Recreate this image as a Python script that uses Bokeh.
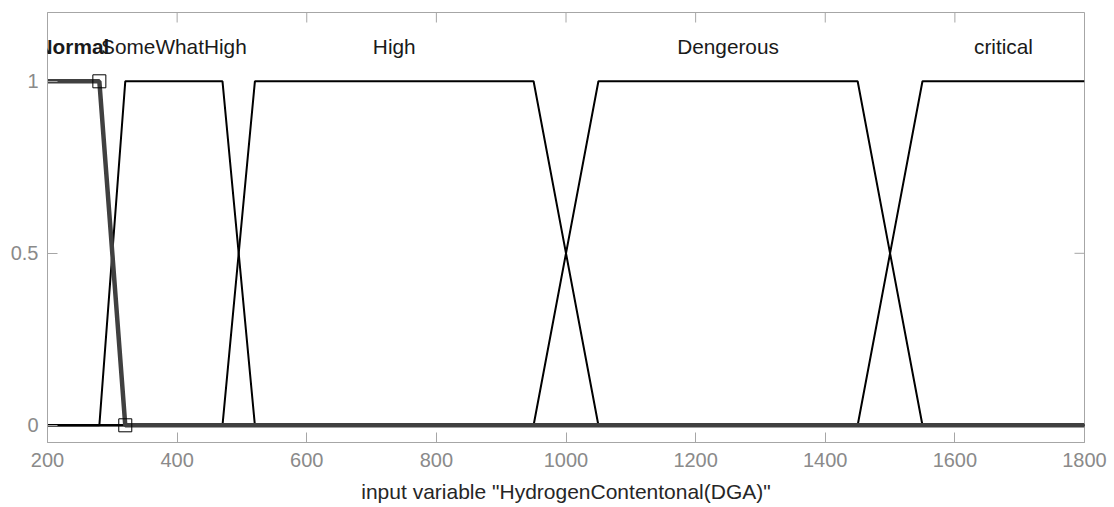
import math
from bokeh.plotting import figure
from bokeh.models import Range1d, FixedTicker, Label
from bokeh.embed import file_html
from bokeh.resources import INLINE

# ---- data ----
mf_names = ["Normal", "SomeWhatHigh", "High", "Dengerous", "critical"]
mf_a = [200, 280, 470, 950, 1450]
mf_b = [200, 320, 520, 1050, 1550]
mf_c = [280, 470, 950, 1450, 1800]
mf_d = [320, 520, 1050, 1550, 1800]
selected = 0
x_min, x_max = 200, 1800
y_min, y_max = -0.05, 1.2
x_ticks = [200, 400, 600, 800, 1000, 1200, 1400, 1600, 1800]
y_ticks = [0, 0.5, 1]
y_tick_labels = {0: "0", 0.5: "0.5", 1: "1"}
x_label = 'input variable "HydrogenContentonal(DGA)"'
label_y = 1.1

FONT = "Liberation Sans"
GREY = "#8a8a8a"
FRAME = "#a6a6a6"

# layout (pixels)
W, H = 1114, 507
B_LEFT, B_RIGHT, B_TOP, B_BOTTOM = 47, 30, 12, 65
FRAME_W = W - B_LEFT - B_RIGHT
FRAME_H = H - B_TOP - B_BOTTOM


def trapmf(x, a, b, c, d):
    left = 1.0 if x >= b else (0.0 if x <= a else (x - a) / (b - a))
    right = 1.0 if x <= c else (0.0 if x >= d else (d - x) / (d - c))
    return min(left, right)


p = figure(width=W, height=H, output_backend="svg", toolbar_location=None,
           x_range=Range1d(x_min, x_max), y_range=Range1d(y_min, y_max),
           min_border_left=B_LEFT, min_border_right=B_RIGHT, min_border_top=B_TOP,
           min_border_bottom=B_BOTTOM)
p.grid.visible = False
p.outline_line_color = FRAME
p.background_fill_color = "white"
p.border_fill_color = "white"

for ax in (p.xaxis[0], p.yaxis[0]):
    ax.major_tick_in = 10
    ax.major_tick_out = 0
    ax.minor_tick_line_color = None
    ax.axis_line_color = FRAME
    ax.major_tick_line_color = FRAME
    ax.major_label_text_color = GREY
    ax.major_label_text_font = FONT
    ax.major_label_text_font_size = "20px"

p.xaxis[0].ticker = FixedTicker(ticks=x_ticks)
p.xaxis[0].major_label_standoff = 10
p.xaxis[0].axis_label = x_label
p.xaxis[0].axis_label_text_font = FONT
p.xaxis[0].axis_label_text_font_size = "21px"
p.xaxis[0].axis_label_text_font_style = "normal"
p.xaxis[0].axis_label_text_color = "#262626"
p.xaxis[0].axis_label_standoff = 10

p.yaxis[0].ticker = FixedTicker(ticks=y_ticks)
p.yaxis[0].major_label_overrides = y_tick_labels
p.yaxis[0].major_label_standoff = 9

# mirrored inward ticks on top and right edges (half of each dash is clipped by the frame)
p.scatter(x_ticks, [y_max] * len(x_ticks), marker="dash", size=20, angle=math.pi / 2,
          line_color=FRAME, line_width=1)
p.scatter([x_max] * len(y_ticks), y_ticks, marker="dash", size=20,
          line_color=FRAME, line_width=1)

# ---- membership functions ----
order = [i for i in range(len(mf_names)) if i != selected] + [selected]
for i in order:
    a, b, c, d = mf_a[i], mf_b[i], mf_c[i], mf_d[i]
    xs = sorted(set([x_min, x_max] + [v for v in (a, b, c, d) if x_min <= v <= x_max]))
    ys = [trapmf(x, a, b, c, d) for x in xs]
    if i == selected:
        p.line(xs, ys, line_color="#404040", line_width=4.5)
    else:
        p.line(xs, ys, line_color="black", line_width=2)

# breakpoint markers of the selected MF
sx = [mf_c[selected], mf_d[selected]]
sy = [trapmf(x, mf_a[selected], mf_b[selected], mf_c[selected], mf_d[selected]) for x in sx]
p.scatter(sx, sy, marker="square", size=13, fill_color=None, line_color="black", line_width=1)

# labels at plateau centres; placed in (frame-relative) screen units so the frame does not clip them
lx = [(max(b, x_min) + min(c, x_max)) / 2 for b, c in zip(mf_b, mf_c)]


def to_sx(x):
    return (x - x_min) / (x_max - x_min) * FRAME_W


def to_sy(y):
    return (y - y_min) / (y_max - y_min) * FRAME_H


for i in [selected] + [j for j in range(len(mf_names)) if j != selected]:
    p.add_layout(Label(x=to_sx(lx[i]), y=to_sy(label_y), x_units="screen", y_units="screen",
                       text=mf_names[i], text_align="center",
                       text_baseline="middle", text_font=FONT, text_font_size="20.8px",
                       text_color="#1a1a1a",
                       text_font_style="bold" if i == selected else "normal"))

open("out.html", "w").write(file_html(p, INLINE))
